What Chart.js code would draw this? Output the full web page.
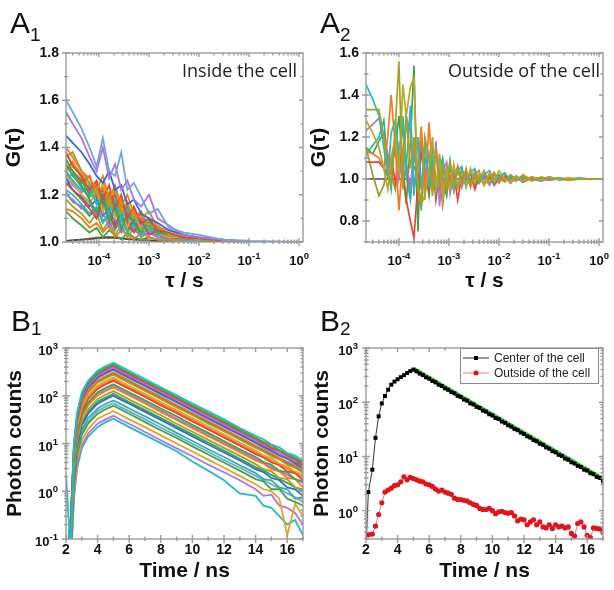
<!DOCTYPE html>
<html>
<head>
<meta charset="utf-8">
<script src="https://cdn.jsdelivr.net/npm/chart.js@4.4.0/dist/chart.umd.min.js"></script>
<style>
  body { margin: 0; background: #fff; }
  #fig { position: relative; width: 614px; height: 590px; overflow: hidden; background: #fff; }
  canvas { position: absolute; }
  .tag { position: absolute; font: 30px "Liberation Sans", Arial, sans-serif; line-height: 30px; color: #111; }
  .tag sub { font-size: 19px; vertical-align: baseline; position: relative; }
  .note { position: absolute; font: 18px "Open Sans", sans-serif; line-height: 18px; color: #222; white-space: nowrap; }
</style>
</head>
<body>
<div id="fig">
  <canvas id="cA1" width="310" height="295" style="left:0;top:0"></canvas>
  <canvas id="cA2" width="314" height="295" style="left:300px;top:0"></canvas>
  <canvas id="cB1" width="310" height="295" style="left:0;top:295px"></canvas>
  <canvas id="cB2" width="314" height="295" style="left:300px;top:295px"></canvas>

  <div class="tag" style="left:10px;top:8px">A<sub style="top:8px">1</sub></div>
  <div class="tag" style="left:320px;top:8px">A<sub style="top:8px">2</sub></div>
  <div class="tag" style="left:11px;top:306px">B<sub style="top:4px">1</sub></div>
  <div class="tag" style="left:320px;top:306px">B<sub style="top:4px">2</sub></div>

  <div class="note" style="left:182px;top:61px">Inside the cell</div>
  <div class="note" style="left:448px;top:61px">Outside of the cell</div>
</div>

<script>
// ---------- A1: correlation curves inside the cell ----------
const tauA1 = [2.2e-5, 3e-5, 4.5e-5, 6.5e-5, 9e-5, 1.2e-4, 1.6e-4, 2.1e-4, 2.8e-4, 3.7e-4,
               5e-4, 7e-4, 1e-3, 1.5e-3, 2.5e-3, 5e-3, 1e-2, 3e-2, 0.1, 1.2];
const gInside = [
  [1.60,1.55,1.48,1.40,1.32,1.44,1.30,1.28,1.38,1.22,1.25,1.19,1.12,1.14,1.06,1.04,1.03,1.01,1.005,1.0],
  [1.55,1.50,1.44,1.36,1.30,1.40,1.27,1.33,1.22,1.26,1.18,1.15,1.20,1.10,1.07,1.03,1.02,1.01,1.0,1.0],
  [1.45,1.42,1.38,1.33,1.28,1.25,1.30,1.22,1.24,1.16,1.18,1.12,1.10,1.08,1.05,1.03,1.02,1.01,1.0,1.0],
  [1.40,1.36,1.30,1.27,1.22,1.28,1.18,1.24,1.15,1.20,1.12,1.10,1.13,1.06,1.05,1.03,1.02,1.01,1.0,1.0],
  [1.38,1.32,1.28,1.22,1.26,1.18,1.24,1.14,1.20,1.10,1.15,1.08,1.10,1.05,1.04,1.02,1.015,1.005,1.0,1.0],
  [1.36,1.38,1.30,1.25,1.20,1.23,1.15,1.22,1.12,1.16,1.10,1.13,1.06,1.07,1.03,1.02,1.01,1.005,1.0,1.0],
  [1.33,1.28,1.24,1.18,1.12,1.20,1.08,1.16,1.05,1.12,1.08,1.04,1.09,1.04,1.03,1.02,1.01,1.0,1.0,1.0],
  [1.30,1.26,1.22,1.24,1.16,1.20,1.12,1.18,1.10,1.14,1.08,1.10,1.05,1.06,1.03,1.02,1.01,1.005,1.0,1.0],
  [1.28,1.25,1.20,1.16,1.22,1.13,1.18,1.10,1.15,1.06,1.12,1.05,1.08,1.04,1.02,1.02,1.01,1.0,1.0,1.0],
  [1.25,1.22,1.18,1.14,1.10,1.17,1.12,1.06,1.13,1.08,1.04,1.09,1.03,1.05,1.02,1.015,1.01,1.0,1.0,1.0],
  [1.22,1.20,1.16,1.12,1.15,1.08,1.12,1.05,1.10,1.04,1.07,1.03,1.06,1.03,1.02,1.01,1.005,1.0,1.0,1.0],
  [1.20,1.18,1.14,1.17,1.10,1.13,1.06,1.10,1.04,1.08,1.05,1.03,1.04,1.02,1.015,1.01,1.005,1.0,1.0,1.0],
  [1.18,1.15,1.12,1.08,1.12,1.05,1.09,1.03,1.07,1.02,1.06,1.02,1.04,1.02,1.01,1.01,1.0,1.0,1.0,1.0],
  [1.14,1.13,1.10,1.06,1.08,1.04,1.07,1.02,1.05,1.03,1.01,1.04,1.02,1.01,1.01,1.0,1.0,1.0,1.0,1.0],
  [1.13,1.10,1.07,1.04,1.06,1.02,1.05,1.03,1.01,1.04,1.02,1.01,1.02,1.01,1.005,1.0,1.0,1.0,1.0,1.0],
  [1.005,1.008,1.01,1.012,1.015,1.018,1.02,1.018,1.015,1.012,1.01,1.008,1.006,1.004,1.003,1.002,1.001,1.0,1.0,1.0],
  [1.0,1.005,1.01,1.015,1.02,1.02,1.018,1.02,1.016,1.014,1.012,1.01,1.008,1.006,1.004,1.002,1.001,1.0,1.0,1.0],
  [1.27,1.22,1.19,1.15,1.18,1.11,1.14,1.08,1.12,1.06,1.09,1.05,1.07,1.03,1.02,1.01,1.005,1.0,1.0,1.0],
  [1.24,1.26,1.20,1.17,1.13,1.16,1.09,1.13,1.07,1.10,1.05,1.07,1.04,1.03,1.02,1.01,1.0,1.0,1.0,1.0],
  [1.35,1.30,1.26,1.20,1.24,1.15,1.20,1.12,1.16,1.09,1.12,1.06,1.08,1.04,1.03,1.015,1.01,1.0,1.0,1.0],
  [1.32,1.30,1.25,1.28,1.19,1.22,1.14,1.20,1.11,1.15,1.09,1.12,1.06,1.05,1.03,1.02,1.01,1.0,1.0,1.0],
  [1.30,1.34,1.27,1.21,1.25,1.16,1.21,1.13,1.18,1.10,1.14,1.07,1.10,1.05,1.03,1.02,1.01,1.0,1.0,1.0],
  [1.37,1.33,1.29,1.24,1.18,1.25,1.17,1.21,1.13,1.17,1.09,1.11,1.07,1.05,1.04,1.02,1.01,1.005,1.0,1.0],
  [1.26,1.29,1.23,1.19,1.21,1.14,1.17,1.11,1.14,1.08,1.11,1.06,1.08,1.04,1.03,1.015,1.01,1.0,1.0,1.0],
  [1.29,1.24,1.21,1.23,1.16,1.19,1.12,1.16,1.09,1.13,1.07,1.09,1.05,1.04,1.02,1.01,1.005,1.0,1.0,1.0],
  [1.21,1.17,1.15,1.11,1.14,1.09,1.11,1.07,1.09,1.05,1.08,1.04,1.05,1.03,1.02,1.01,1.0,1.0,1.0,1.0]
];
const gInsideTicks = [1.0, 1.2, 1.4, 1.6, 1.8];

// ---------- A2: correlation curves outside of the cell ----------
const tauA2 = [2.2e-5, 3e-5, 4e-5, 5e-5, 6e-5, 7e-5, 8.5e-5, 1e-4, 1.2e-4, 1.4e-4,
               1.7e-4, 2e-4, 2.4e-4, 2.8e-4, 3.3e-4, 4e-4, 4.7e-4, 5.5e-4, 6.5e-4, 7.5e-4,
               9e-4, 1.05e-3, 1.25e-3, 1.5e-3, 1.8e-3, 2.2e-3, 2.7e-3, 3.3e-3, 4e-3, 5e-3,
               6.5e-3, 8e-3, 1e-2, 1.3e-2, 1.7e-2, 2.2e-2, 3e-2, 4.5e-2, 7e-2, 0.1,
               0.16, 0.25, 0.4, 0.7, 1.2];
const gOutside = [
  [1.33,1.33,1.33,1.20,1.05,0.98,1.25,1.56,0.95,1.30,1.05,1.20,0.98,0.88,1.20,
   1.10,0.92,1.15,0.98,1.06,0.95,1.08,0.97,1.05,0.98,1.04,0.97,1.03,0.99,1.04,
   0.98,1.02,1.01,0.985,1.02,0.99,1.015,0.99,1.01,1.0,1.005,0.995,1.0,1.0,1.0],
  [1.28,1.22,1.15,1.05,0.95,1.10,1.20,1.02,1.45,1.30,1.44,1.48,0.95,0.88,0.92,
   1.05,1.20,0.94,1.10,0.90,1.04,0.95,1.07,0.96,1.03,0.97,1.05,0.98,1.02,0.97,
   1.03,0.99,1.04,1.0,0.985,1.01,0.99,1.01,0.995,1.005,1.0,1.005,1.0,1.0,1.0],
  [1.45,1.38,1.30,1.15,1.00,1.22,1.28,1.10,1.30,1.05,1.35,0.92,1.20,0.95,1.18,
   0.96,1.12,0.94,1.05,1.10,0.97,1.09,0.95,1.04,1.06,0.96,1.03,1.05,0.98,1.02,
   1.04,0.98,1.01,1.03,0.99,1.015,0.995,1.01,0.99,1.01,0.995,1.0,1.005,1.0,1.0],
  [1.13,1.12,1.10,1.05,1.20,1.40,1.15,0.85,1.10,1.30,1.22,0.95,1.05,1.25,0.90,
   1.27,1.02,0.95,1.12,0.93,1.06,1.02,0.94,1.06,0.97,1.05,0.96,1.02,1.04,0.97,
   1.01,1.03,0.98,1.02,1.0,0.99,1.02,0.995,1.0,1.01,1.0,0.995,1.0,1.0,1.0],
  [1.23,1.26,1.29,1.20,1.12,1.05,1.18,1.00,1.12,1.08,0.96,1.14,1.05,1.22,1.00,
   1.12,0.95,1.18,0.87,1.04,1.08,0.93,1.02,1.06,0.96,1.02,0.97,1.04,0.99,1.01,
   0.97,1.02,1.0,0.99,1.02,1.0,0.99,1.01,1.0,0.995,1.005,1.0,1.0,1.0,1.0],
  [1.08,1.08,1.08,1.05,1.02,1.10,0.98,1.15,1.02,0.90,0.80,0.72,0.98,1.12,1.04,
   0.95,1.08,0.90,1.04,0.88,1.05,0.98,1.03,0.90,1.02,0.97,1.03,0.95,1.01,0.98,
   1.02,0.97,1.0,1.015,0.98,1.01,0.985,1.005,1.0,0.995,1.0,1.0,1.0,1.0,1.0],
  [1.15,1.12,1.18,1.22,1.10,1.05,1.15,1.30,1.08,0.88,1.18,1.54,0.75,1.20,1.05,
   0.92,1.10,1.00,0.95,1.08,0.93,1.05,1.00,0.96,1.04,1.01,0.97,1.03,0.99,1.02,
   0.98,1.0,1.02,0.99,1.01,0.995,1.01,1.0,0.99,1.005,1.0,1.0,1.0,1.0,1.0],
  [1.12,1.16,1.20,1.28,1.05,0.95,1.22,1.10,1.25,1.02,0.90,1.12,1.00,0.85,1.10,
   1.02,1.14,0.94,1.08,1.00,0.92,1.06,1.02,0.97,1.05,0.98,1.03,0.97,1.02,1.0,
   0.98,1.03,0.99,1.01,0.99,1.005,0.99,1.005,1.0,1.0,1.0,1.0,1.0,1.0,1.0],
  [1.15,1.02,0.92,0.97,1.08,1.02,0.95,1.12,0.98,1.05,0.93,1.06,1.02,0.96,1.04,
   0.99,1.06,0.97,1.03,0.95,1.04,0.99,1.02,0.97,1.01,1.02,0.99,1.01,0.98,1.01,
   1.0,0.99,1.01,1.0,1.0,1.0,1.0,1.0,1.0,1.0,1.0,1.0,1.0,1.0,1.0]
];
const tauFlat = [2.2e-5, 1.2];
const gFlat = [1.0, 1.0];
const gOutsideTicks = [0.8, 1.0, 1.2, 1.4, 1.6];
const tauPowers = [-4, -3, -2, -1, 0];

// ---------- B1: decay curves, all pixels ----------
const tDecay = [2.0, 2.3, 2.5, 2.7, 3.0, 3.4, 4.0, 4.5, 5.0, 5.5, 6, 7, 8, 9, 10,
                11, 12, 13, 14, 14.5, 15, 15.5, 16, 16.5, 17];
const countsAll = [
  [2.2,0.05,10,44,118,206,333,412,490,402,331,224,151,102,69,47,32,21,14.5,12.3,9.5,8.3,6.3,5.6,4.3],
  [0.03,0.27,9,40,108,189,306,378,450,369,304,206,139,94,63,43,29,19.7,13.3,10.9,9.2,7.3,6.1,5.0,4.0],
  [0.03,0.25,8.4,38,101,176,286,353,420,344,284,192,130,88,59,40,27,18.4,12.4,10.2,8.2,7.0,5.6,4.7,3.6],
  [0.03,0.23,7.8,35,94,164,265,328,390,320,264,178,121,82,55,37,25,17,11.5,9.6,7.8,6.2,5.3,4.3,3.7],
  [0.03,0.21,7,31,84,147,238,294,350,287,237,160,108,73,49,33,22.6,15.3,10.3,8.4,7.0,5.6,4.8,3.8,3.0],
  [0.03,0.19,6.2,28,74,130,211,260,310,254,210,142,96,65,44,29.6,20,13.5,9.1,7.6,6.2,5.0,4.2,3.5,2.7],
  [0.03,0.17,5.5,25,66,116,187,231,275,226,186,126,85,57,39,26,17.8,12,8.1,6.7,5.4,4.6,3.6,3.1,2.4],
  [0.03,0.14,4.8,22,58,101,163,202,240,197,162,110,74,50,34,23,15.5,10.5,7.1,5.7,4.9,3.8,3.3,2.6,2.2],
  [0.03,0.12,4.1,18.5,49,86,139,172,205,168,139,94,63,43,29,19.6,13.2,9.0,6.0,5.1,4.0,3.5,2.6,2.4,1.7],
  [0.03,0.1,3.5,16,42,73,119,147,175,144,118,80,54,37,24.7,16.7,11.3,7.6,5.2,4.1,3.6,2.7,2.5,1.8,1.6],
  [0.03,0.09,3,13.5,36,63,102,126,150,123,101,69,46,31,21,14.3,9.7,6.6,4.4,3.8,2.9,2.6,1.9,1.8,1.2],
  [0.03,0.08,2.5,11.3,30,52,85,105,125,102,84,57,39,26,17.6,11.9,8.1,5.5,3.7,2.9,2.6,1.9,1.8,1.2,1.1],
  [0.03,0.06,2,9,24,42,68,84,100,82,68,46,31,21,14.1,9.5,6.5,4.4,2.9,2.5,1.9,1.7,1.2,1.1,0.8],
  [0.03,0.05,1.6,7.2,19,34,54,67,80,66,54,37,25,16.7,11.3,7.6,5.2,3.5,2.4,1.8,1.7,1.2,1.1,0.7,0.75],
  [0.03,0.04,1.2,5.6,15,26,42,52,62,51,42,28,19,13,8.7,5.9,4.0,2.7,1.8,1.6,1.1,1.1,0.7,0.6,0.5],
  [0.03,0.03,1.0,4.3,11.5,20,33,40,48,39,32,22,14.8,10,6.8,4.6,3.1,2.1,1.4,1.1,1.0,0.7,0.12,0.55,0.3],
  [0.03,0.03,0.8,3.4,9.1,16,26,32,38,31,26,17.4,11.7,7.9,5.4,3.6,2.5,1.7,1.1,0.8,0.85,0.5,0.45,0.35,0.2],
  [0.03,0.03,0.7,3.0,7.9,13.9,22,28,33,27,22,15,10.2,6.9,4.2,2.7,1.7,0.9,0.8,0.5,0.45,0.3,0.2,0.25,0.12],
  [0.03,0.22,7.4,33,89,155,252,311,370,303,250,169,114,77,52,35,24,16.2,10.9,9.0,7.4,6.1,5.0,4.1,3.4],
  [0.03,0.17,5.8,26,70,122,197,244,290,238,196,133,90,61,41,27.7,18.7,12.7,8.6,7.0,5.8,4.8,3.9,3.2,2.6],
  [0.03,0.13,4.4,20,53,92,150,185,220,180,149,101,68,46,31,21,14.2,9.6,6.5,5.3,4.4,3.6,3.0,2.4,2.0],
  [0.03,0.1,3.2,14.4,38,67,109,134,160,131,108,73,49,33,22.6,15.3,10.3,7.0,4.7,3.9,3.2,2.6,2.2,1.8,1.5],
  [0.03,0.07,2.2,9.9,26,46,75,92,110,90,74,50,34,23,15.5,10.5,7.1,4.8,3.2,2.7,2.2,1.8,1.5,1.2,1.0],
  [0.03,0.04,1.4,6.3,17,29,48,59,70,57,47,32,21.6,14.6,9.9,6.7,4.5,3.1,2.1,1.7,1.4,1.15,0.9,0.75,0.6]
];
const countPowersB1 = [-1, 0, 1, 2, 3];

// ---------- B2: centre vs outside of the cell ----------
const tB2 = [2.0,2.15,2.4,2.6,2.8,3.0,3.2,3.4,3.6,3.8,4.0,4.2,4.4,4.6,4.8,5.0,
             5.2,5.4,5.6,5.8,6.0,6.2,6.4,6.6,6.8,7.0,7.2,7.4,7.6,7.8,8.0,8.2,8.4,8.6,8.8,9.0,
             9.2,9.4,9.6,9.8,10.0,10.2,10.4,10.6,10.8,11.0,11.2,11.4,11.6,11.8,12.0,12.2,12.4,12.6,12.8,13.0,
             13.2,13.4,13.6,13.8,14.0,14.2,14.4,14.6,14.8,15.0,15.2,15.4,15.6,15.8,16.0,16.2,16.4,16.6,16.8,17.0];
const countsCenter = [0.2,2.2,5.7,22,55,95,130,170,210,240,265,290,315,345,375,400,
  372,338,318,288,272,246,233,210,199,180,170,154,146,131,125,112,107,95,91,82,
  78,70,67,60,57,51,49,44,41.5,37.5,35.5,32,30.5,27.5,26,23.5,22.3,20,19.1,17.2,
  16.4,14.7,13.9,12.5,11.9,10.7,10.2,9.1,8.7,7.8,7.4,6.7,6.4,5.7,5.5,4.9,4.7,4.2,4.0,3.5];
const countsOutside = [0.2,0.36,0.37,0.52,0.85,1.4,2.2,2.4,2.6,2.9,3.0,3.4,4.2,3.7,4.1,3.9,
  3.7,3.5,3.4,3.1,3.0,2.8,2.5,2.3,2.4,2.2,2.1,2.0,1.7,1.6,1.6,1.55,1.5,1.4,1.3,1.25,
  1.1,1.05,1.05,1.1,1.0,0.88,0.95,0.97,0.92,0.9,0.92,0.8,0.65,0.7,0.68,0.55,0.62,0.68,0.55,0.62,
  0.5,0.48,0.55,0.47,0.55,0.5,0.52,0.48,0.5,0.38,0.34,0.58,0.62,0.5,0.35,0.32,0.48,0.47,0.46,0.4];
const tFit = [5.0, 17.0];
const countsFit = [410, 3.8];
const countPowersB2 = [0, 1, 2, 3];
const timeTicks = [2, 4, 6, 8, 10, 12, 14, 16];
const timeMinor = [3, 5, 7, 9, 11, 13, 15, 17];
const seriesNames = ['Center of the cell', 'Outside of the cell'];

// ---------- styling ----------
const FONT = '"Liberation Sans", Arial, Helvetica, sans-serif';
const C = {
  cyan: '#22bcc6', green: '#3ea448', red: '#e5453a', purple: '#ad74e4', blue: '#2f6cd4',
  orange: '#f27a20', olive: '#a8a021', gold: '#e9a31d', lblue: '#72a6d9', teal: '#2fb3a6',
  dark: '#4a4a4a', oliveB: '#b7a928', oliveC: '#9c9a2a'
};
const colorsA1 = [C.lblue, C.purple, C.blue, C.orange, C.red, C.olive, C.green, C.cyan, C.gold, C.red,
                  C.cyan, C.purple, C.olive, C.orange, C.green, C.dark, C.olive, C.blue, C.lblue, C.green,
                  C.red, C.orange, C.gold, C.cyan, C.purple, C.green];
const colorsA2 = [C.olive, C.oliveB, C.cyan, C.orange, C.purple, C.red, C.green, C.teal, C.oliveC];
const colorsB1 = [C.cyan, C.green, C.red, C.purple, C.blue, C.orange, C.olive, C.gold, C.red,
                  C.green, C.orange, C.olive, C.blue, C.teal, C.green, C.gold, C.purple, C.cyan,
                  C.red, C.blue, C.orange, C.purple, C.green, C.lblue];

const frameColor = '#9b9b9b';

function xy(xs, ys) {
  return xs.map((x, i) => ({ x: x, y: ys[i] }));
}

function logMinor(p0, p1) {
  const out = [];
  for (let p = p0; p < p1; p++) {
    for (let m = 2; m <= 9; m++) out.push(m * Math.pow(10, p));
  }
  return out;
}

function drawPow(ctx, x, y, exp, align) {
  const big = 'bold 13px ' + FONT;
  const small = 'bold 9.5px ' + FONT;
  const s = String(exp);
  ctx.font = big;
  const w1 = ctx.measureText('10').width;
  ctx.font = small;
  const w2 = ctx.measureText(s).width;
  const x0 = align === 'center' ? x - (w1 + w2) / 2 : x - w1 - w2;
  ctx.fillStyle = '#111';
  ctx.textAlign = 'left';
  ctx.textBaseline = 'alphabetic';
  ctx.font = big;
  ctx.fillText('10', x0, y);
  ctx.font = small;
  ctx.fillText(s, x0 + w1, y - 6);
}

// box, inward/outward ticks and 10^n labels
const framePlugin = {
  id: 'frame',
  afterDatasetsDraw(chart, args, o) {
    const { ctx, chartArea: a } = chart;
    const xs = chart.scales.x, ys = chart.scales.y;
    ctx.save();
    ctx.strokeStyle = frameColor;
    ctx.lineWidth = 1.4;
    ctx.beginPath();
    const hTick = (v, out, inn) => {
      const p = xs.getPixelForValue(v);
      if (p < a.left - 0.5 || p > a.right + 0.5) return;
      ctx.moveTo(p, a.bottom + out); ctx.lineTo(p, a.bottom - inn);
      ctx.moveTo(p, a.top); ctx.lineTo(p, a.top + inn);
    };
    const vTick = (v, out, inn) => {
      const p = ys.getPixelForValue(v);
      if (p < a.top - 0.5 || p > a.bottom + 0.5) return;
      ctx.moveTo(a.left - out, p); ctx.lineTo(a.left + inn, p);
      ctx.moveTo(a.right, p); ctx.lineTo(a.right - inn, p);
    };
    (o.xMajor || []).forEach(v => hTick(v, 4, 4));
    (o.xMinor || []).forEach(v => hTick(v, 2, 2.5));
    (o.yMajor || []).forEach(v => vTick(v, 4, 4));
    (o.yMinor || []).forEach(v => vTick(v, 2, 2.5));
    ctx.stroke();
    ctx.strokeRect(a.left, a.top, a.right - a.left, a.bottom - a.top);
    (o.xPow || []).forEach(e => drawPow(ctx, xs.getPixelForValue(Math.pow(10, e)), a.bottom + 23, e, 'center'));
    (o.yPow || []).forEach(e => drawPow(ctx, a.left - 8, ys.getPixelForValue(Math.pow(10, e)) + 7, e, 'right'));
    ctx.restore();
  }
};

// boxed legend in the top right corner
const boxLegend = {
  id: 'boxLegend',
  afterDraw(chart, args, o) {
    if (!o.show) return;
    const { ctx, chartArea: a } = chart;
    const sets = chart.data.datasets.filter(d => d.label);
    const L = a.right - 143, T = a.top, W = 138, H = 35;
    ctx.save();
    ctx.fillStyle = '#fff';
    ctx.fillRect(L, T, W, H);
    ctx.strokeStyle = '#8a8a8a';
    ctx.lineWidth = 1;
    ctx.strokeRect(L + 0.5, T + 0.5, W, H);
    sets.forEach((d, i) => {
      const yy = T + 10 + i * 15;
      ctx.strokeStyle = d.borderColor;
      ctx.lineWidth = 1;
      ctx.beginPath();
      ctx.moveTo(L + 3, yy);
      ctx.lineTo(L + 29, yy);
      ctx.stroke();
      ctx.fillStyle = d.pointBackgroundColor;
      if (d.pointStyle === 'rect') {
        ctx.fillRect(L + 14, yy - 2, 4, 4);
      } else {
        ctx.beginPath();
        ctx.arc(L + 16, yy, 2.5, 0, Math.PI * 2);
        ctx.fill();
      }
      ctx.fillStyle = '#222';
      ctx.font = '12px ' + FONT;
      ctx.textAlign = 'left';
      ctx.textBaseline = 'middle';
      ctx.fillText(d.label, L + 34, yy + 0.5);
    });
    ctx.restore();
  }
};

function axisTitle(text, pad) {
  return { display: true, text: text, color: '#111', padding: pad,
           font: { family: FONT, weight: 'bold', size: 21 } };
}

function panel(id, datasets, o) {
  const tickFont = { family: FONT, weight: 'bold', size: 14 };
  const x = {
    type: o.xType, min: o.xMin, max: o.xMax,
    grid: { display: false, drawTicks: false }, border: { display: false },
    title: axisTitle(o.xTitle, o.xTitlePad),
    afterFit: s => { s.height = o.xHeight; }
  };
  if (o.xTicks) {
    x.afterBuildTicks = s => { s.ticks = o.xTicks.map(v => ({ value: v })); };
    x.ticks = { font: tickFont, color: '#111', padding: 3, maxRotation: 0, autoSkip: false };
  } else {
    x.ticks = { display: false };
  }
  const y = {
    type: o.yType, min: o.yMin, max: o.yMax,
    grid: { display: false, drawTicks: false }, border: { display: false },
    title: axisTitle(o.yTitle, o.yTitlePad),
    afterFit: s => { s.width = 66; }
  };
  if (o.yTicks) {
    y.afterBuildTicks = s => { s.ticks = o.yTicks.map(v => ({ value: v })); };
    y.ticks = { font: tickFont, color: '#111', padding: 7, callback: v => Number(v).toFixed(1) };
  } else {
    y.ticks = { display: false };
  }
  return new Chart(document.getElementById(id), {
    type: 'line',
    data: { datasets: datasets },
    options: {
      responsive: false, animation: false, events: [],
      layout: { padding: { top: 53, right: o.padRight, bottom: 0, left: 0 } },
      plugins: {
        legend: { display: false }, tooltip: { enabled: false },
        frame: o.frame, boxLegend: { show: !!o.legend }
      },
      scales: { x: x, y: y }
    },
    plugins: [framePlugin, boxLegend]
  });
}

function lineSet(xs, ys, color, width) {
  return { data: xy(xs, ys), borderColor: color, borderWidth: width, pointRadius: 0, tension: 0, fill: false };
}

const tauMinor = logMinor(-5, 0);

// A1
panel('cA1', gInside.map((g, i) => lineSet(tauA1, g, colorsA1[i], 1.8)), {
  xType: 'logarithmic', xMin: 2.2e-5, xMax: 1.2, xTitle: 'τ / s', xTitlePad: { top: 0, bottom: 1 }, xHeight: 53,
  yType: 'linear', yMin: 1.0, yMax: 1.8, yTicks: gInsideTicks, yTitle: 'G(τ)', yTitlePad: { top: 2, bottom: 0 },
  padRight: 7,
  frame: { xMajor: tauPowers.map(e => Math.pow(10, e)), xMinor: tauMinor, xPow: tauPowers,
           yMajor: gInsideTicks, yMinor: [1.1, 1.3, 1.5, 1.7] }
});

// A2
const a2Sets = gOutside.map((g, i) => lineSet(tauA2, g, colorsA2[i], 1.7));
a2Sets.push(lineSet(tauFlat, gFlat, C.dark, 1.4));
panel('cA2', a2Sets, {
  xType: 'logarithmic', xMin: 2.2e-5, xMax: 1.2, xTitle: 'τ / s', xTitlePad: { top: 0, bottom: 1 }, xHeight: 53,
  yType: 'linear', yMin: 0.7, yMax: 1.6, yTicks: gOutsideTicks, yTitle: 'G(τ)', yTitlePad: { top: 7, bottom: 0 },
  padRight: 11,
  frame: { xMajor: tauPowers.map(e => Math.pow(10, e)), xMinor: tauMinor, xPow: tauPowers,
           yMajor: gOutsideTicks, yMinor: [0.7, 0.9, 1.1, 1.3, 1.5] }
});

// B1
panel('cB1', countsAll.map((c, i) => lineSet(tDecay, c, colorsB1[i], 1.8)), {
  xType: 'linear', xMin: 2, xMax: 17, xTicks: timeTicks, xTitle: 'Time / ns', xTitlePad: { top: 0, bottom: 6 }, xHeight: 51,
  yType: 'logarithmic', yMin: 0.1, yMax: 1000, yTitle: 'Photon counts', yTitlePad: { top: 3, bottom: 0 },
  padRight: 7,
  frame: { xMajor: timeTicks, xMinor: timeMinor, yMajor: countPowersB1.map(e => Math.pow(10, e)),
           yMinor: logMinor(-1, 3), yPow: countPowersB1 }
});

// B2
panel('cB2', [
  { label: seriesNames[0], data: xy(tB2, countsCenter), borderColor: '#333', borderWidth: 1,
    pointStyle: 'rect', pointRadius: 2.8, pointBackgroundColor: '#000', pointBorderWidth: 0, tension: 0 },
  { label: seriesNames[1], data: xy(tB2, countsOutside), borderColor: '#f07a7a', borderWidth: 1,
    pointStyle: 'circle', pointRadius: 2.6, pointBackgroundColor: '#e3121b', pointBorderWidth: 0, tension: 0 },
  { data: xy(tFit, countsFit), borderColor: '#35c935', borderWidth: 4.5, pointRadius: 0, tension: 0 }
], {
  xType: 'linear', xMin: 2, xMax: 17, xTicks: timeTicks, xTitle: 'Time / ns', xTitlePad: { top: 0, bottom: 6 }, xHeight: 51,
  yType: 'logarithmic', yMin: 0.3, yMax: 1000, yTitle: 'Photon counts', yTitlePad: { top: 10, bottom: 0 },
  padRight: 11, legend: true,
  frame: { xMajor: timeTicks, xMinor: timeMinor, yMajor: countPowersB2.map(e => Math.pow(10, e)),
           yMinor: [0.3, 0.4, 0.5, 0.6, 0.7, 0.8, 0.9].concat(logMinor(0, 3)), yPow: countPowersB2 }
});
</script>
</body>
</html>
